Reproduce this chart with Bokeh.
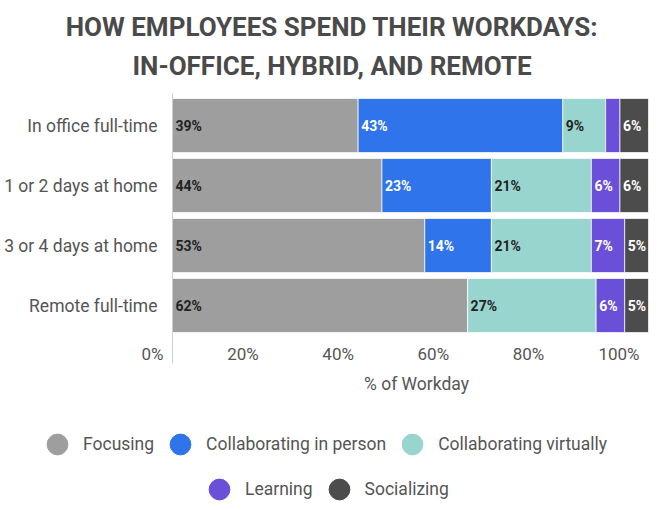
import numpy as np
from bokeh.plotting import figure
from bokeh.models import ColumnDataSource, Range1d, Label, Legend, LegendItem
from bokeh.core.properties import value
from bokeh.embed import file_html
from bokeh.resources import INLINE

# ---------------- data ----------------
categories = ["In office full-time", "1 or 2 days at home", "3 or 4 days at home", "Remote full-time"]
series = ["Focusing", "Collaborating in person", "Collaborating virtually", "Learning", "Socializing"]
focusing = [39, 44, 53, 62]
collab_person = [43, 23, 14, 0]
collab_virtual = [9, 21, 21, 27]
learning = [3, 6, 7, 6]
socializing = [6, 6, 5, 5]
tick_values = [0, 20, 40, 60, 80, 100]
tick_labels = ["0%", "20%", "40%", "60%", "80%", "100%"]
title_lines = ["HOW EMPLOYEES SPEND THEIR WORKDAYS:", "IN-OFFICE, HYBRID, AND REMOTE"]
x_title = "% of Workday"

colors = ["#9e9e9e", "#2f74ea", "#99d5cf", "#6a4fd9", "#4c4c4c"]
label_colors = ["#222222", "#ffffff", "#222222", "#ffffff", "#ffffff"]

# ---------------- layout (pixels) ----------------
W, H = 663, 510
AXIS_TOP, AXIS_BOTTOM = 93, 363
X0_PX, X100_PX = 172, 648
ROW_PITCH = 60
ROW0_PX = 305  # center of lowest row
ppu = (X100_PX - X0_PX) / 100.0


def ydata(px):
    return (ROW0_PX - px) / ROW_PITCH


p = figure(width=W, height=H, output_backend="svg", toolbar_location=None,
           x_axis_type=None, y_axis_type=None,
           x_range=Range1d(-X0_PX / ppu, (W - X0_PX) / ppu),
           y_range=Range1d(ydata(H), ydata(0)),
           min_border_left=0, min_border_right=0,
           min_border_top=0, min_border_bottom=0)
p.outline_line_color = None
p.background_fill_color = "white"
p.border_fill_color = "white"

n = len(categories)
ys = [n - 1 - i for i in range(n)]
values = [focusing, collab_person, collab_virtual, learning, socializing]
data = {"y": ys}
for s, v in zip(series, values):
    data[s] = v
source = ColumnDataSource(data)

p.hbar_stack(series, y="y", height=0.9, color=colors, source=source,
             line_color="white", line_width=1, line_alpha=0.7)

# vertical axis line at 0%
p.segment(x0=[0], y0=[ydata(AXIS_TOP)], x1=[0], y1=[ydata(AXIS_BOTTOM)],
          line_color="#cfcfcf", line_width=1)

# segment labels
arr = np.array(values, dtype=float)
lefts = np.cumsum(arr, axis=0) - arr
lx, ly, lt, lc = [], [], [], []
for si in range(len(series)):
    for ci in range(n):
        v = arr[si, ci]
        if v >= 5:
            lx.append(lefts[si, ci])
            ly.append(ys[ci])
            lt.append(f"{int(v)}%")
            lc.append(label_colors[si])
p.text(x=lx, y=ly, text=lt, text_color=lc, x_offset=3,
       text_align="left", text_baseline="middle",
       text_font=value("Roboto"), text_font_style="bold", text_font_size=value("14px"))

# category labels
p.text(x=[0] * n, y=ys, text=categories, x_offset=-15,
       text_align="right", text_baseline="middle", text_color="#555555",
       text_font=value("Roboto"), text_font_size=value("17.5px"))

# x tick labels
p.text(x=tick_values, y=[ydata(353)] * len(tick_values), text=tick_labels, x_offset=-9,
       text_align="right", text_baseline="middle", text_color="#555555",
       text_font=value("Roboto"), text_font_size=value("17px"))

# x axis title
p.add_layout(Label(x=416, y=H - 383, x_units="screen", y_units="screen",
                   text=x_title, text_align="center", text_baseline="middle",
                   text_font="Roboto", text_font_size="17.5px", text_color="#555555"))

# chart title
for txt, cy in zip(title_lines, [26, 65]):
    p.add_layout(Label(x=W / 2, y=H - cy, x_units="screen", y_units="screen",
                       text=txt, text_align="center", text_baseline="middle",
                       text_font="Roboto", text_font_style="bold", text_font_size="26px",
                       text_color="#4a4a4a"))

# legend (hidden-position circle renderers used only as legend glyphs)
dummies = [p.scatter(x=[np.nan], y=[np.nan], marker="circle", color=c, size=20)
           for c in colors]


def make_legend(idx, loc):
    return Legend(items=[LegendItem(label=series[i], renderers=[dummies[i]]) for i in idx],
                  orientation="horizontal", location=loc,
                  glyph_width=52, glyph_height=52, label_standoff=0, spacing=0,
                  padding=0, margin=0, border_line_color=None, background_fill_alpha=0,
                  label_text_font="Roboto", label_text_font_size="17.5px",
                  label_text_color="#555555")


p.add_layout(make_legend([0, 1, 2], (31, H - 470)))
p.add_layout(make_legend([3, 4], (193, H - 515)))

open("out.html", "w").write(file_html(p, INLINE))
